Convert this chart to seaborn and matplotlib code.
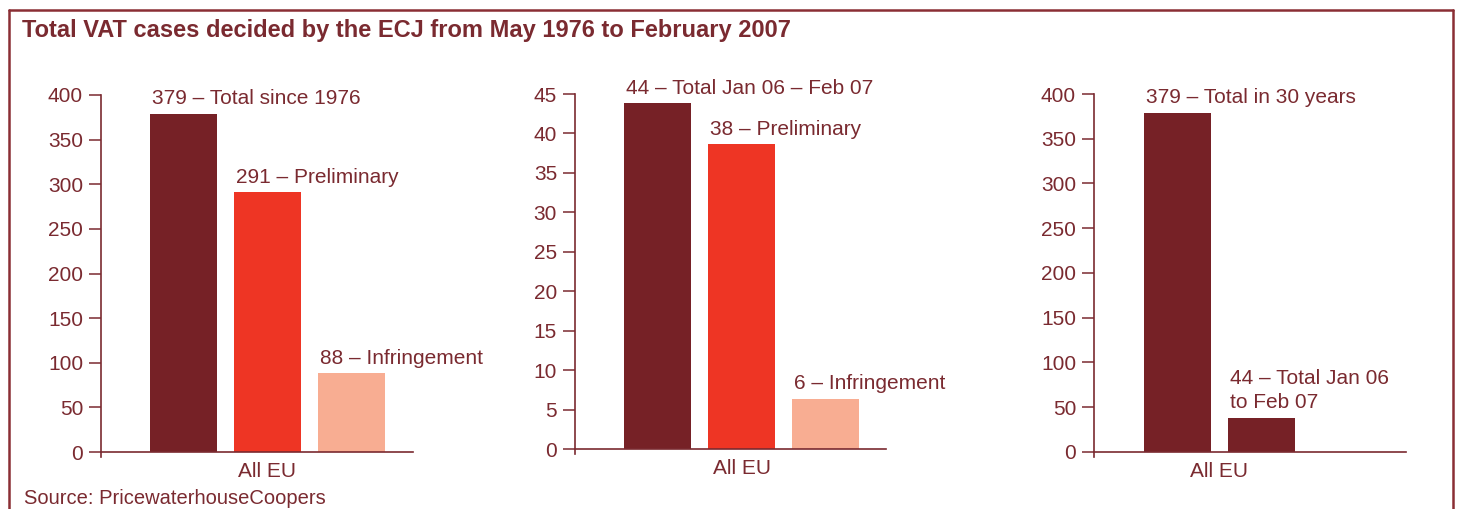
import matplotlib
matplotlib.use("Agg")
import matplotlib.pyplot as plt
import seaborn as sns
import pandas as pd
from matplotlib.lines import Line2D

# ---------------- data ----------------
region = "All EU"

p1_series = ["Total since 1976", "Preliminary", "Infringement"]
p1_values = [379, 291, 88]
p1_labels = ["379 – Total since 1976", "291 – Preliminary", "88 – Infringement"]

p2_series = ["Total Jan 06 – Feb 07", "Preliminary", "Infringement"]
p2_values = [43.8, 38.6, 6.4]
p2_labels = ["44 – Total Jan 06 – Feb 07", "38 – Preliminary", "6 – Infringement"]

p3_series = ["Total in 30 years", "Total Jan 06 to Feb 07"]
p3_values = [379, 38]
p3_labels = ["379 – Total in 30 years", "44 – Total Jan 06\nto Feb 07"]

y1_ticks = list(range(0, 401, 50))
y2_ticks = list(range(0, 46, 5))
y3_ticks = list(range(0, 401, 50))

title = "Total VAT cases decided by the ECJ from May 1976 to February 2007"
source = "Source: PricewaterhouseCoopers"

# ---------------- style ----------------
DARK = "#762126"
RED = "#EE3524"
SALMON = "#F8AD92"
INK = "#7A2A30"
FRAME = "#8A2E34"
FS = 15

sns.set_theme(style="white")
plt.rcParams["font.family"] = ["Liberation Sans", "DejaVu Sans"]

W, H = 1459, 509
fig = plt.figure(figsize=(W / 100, H / 100), dpi=100)


def px_axes(left, right, y_bottom, y_top):
    return fig.add_axes([left / W, 1 - y_bottom / H, (right - left) / W, (y_bottom - y_top) / H])


def draw_panel(ax, series, values, labels, palette, width, xlim, ylim, yticks):
    df = pd.DataFrame({"region": [region] * len(series), "series": series, "value": values})
    sns.barplot(data=df, x="region", y="value", hue="series", hue_order=series,
                palette=palette, width=width, gap=0.2, saturation=1,
                legend=False, ax=ax, errorbar=None, linewidth=0)
    ax.set_xlim(*xlim)
    ax.set_ylim(*ylim)
    ax.set_yticks(yticks)
    ax.set_xlabel("")
    ax.set_ylabel("")
    for s in ["top", "right"]:
        ax.spines[s].set_visible(False)
    for s in ["left", "bottom"]:
        ax.spines[s].set_color(INK)
        ax.spines[s].set_linewidth(1.2)
    ax.spines["bottom"].set_position(("data", 0))
    ax.tick_params(axis="y", direction="out", length=8.6, width=1.1, color=INK,
                   labelcolor=INK, labelsize=FS, pad=4.3, left=True)
    ax.tick_params(axis="x", length=0, labelcolor=INK, labelsize=FS, pad=7.5)
    ax.set_facecolor("none")
    for patch, lab in zip(ax.patches, labels):
        x0 = patch.get_x()
        top = patch.get_height()
        ax.annotate(lab, xy=(x0, top), xytext=(1.5, 7), textcoords="offset points",
                    ha="left", va="baseline", fontsize=FS, color=INK,
                    linespacing=1.35, annotation_clip=False)


ax1 = px_axes(101, 413, 457, 95)
draw_panel(ax1, p1_series, p1_values, p1_labels, [DARK, RED, SALMON], 0.75,
           (-0.4955, 0.4335), (-5.6, 400), y1_ticks)

ax2 = px_axes(575, 886, 454, 94)
draw_panel(ax2, p2_series, p2_values, p2_labels, [DARK, RED, SALMON], 0.75,
           (-0.4965, 0.429), (-0.63, 45), y2_ticks)

ax3 = px_axes(1094, 1406, 457, 94)
draw_panel(ax3, p3_series, p3_values, p3_labels, [DARK, DARK], 0.5,
           (-0.373, 0.556), (-5.6, 400), y3_ticks)

# title and source
fig.text(22 / W, 1 - 30 / H, title, ha="left", va="center", fontsize=17,
         fontweight="bold", color=INK)
fig.text(24 / W, 1 - 498 / H, source, ha="left", va="center", fontsize=FS - 0.5, color=INK)

# frame (open at the bottom)
x0, x1, yt = 8.5 / W, 1453 / W, 1 - 10 / H
for xs, ys in [([x0, x0], [0, yt]), ([x0, x1], [yt, yt]), ([x1, x1], [yt, 0])]:
    fig.add_artist(Line2D(xs, ys, transform=fig.transFigure, color=FRAME, lw=1.8))

fig.savefig("out.png", dpi=100)
